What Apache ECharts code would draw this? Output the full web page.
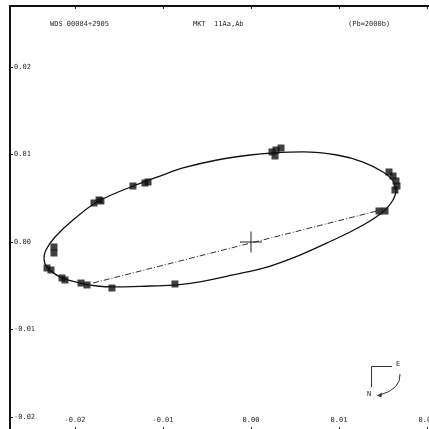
<!DOCTYPE html>
<html>
<head>
<meta charset="utf-8">
<script src="https://cdn.jsdelivr.net/npm/echarts@6/dist/echarts.min.js"></script>
<style>
html,body{margin:0;padding:0;background:#fff;}
#chart{width:429px;height:429px;}
</style>
</head>
<body>
<div id="chart"></div>
<script>
// Header texts
var titleLeft = 'WDS 00084+2905';
var titleMid = 'MKT  11Aa,Ab';
var titleRight = '(Pb=2000b)';

// Tick values (arcsec)
var xTicks = [-0.02, -0.01, 0.00, 0.01, 0.02];
var yTicks = [-0.02, -0.01, 0.00, 0.01, 0.02];

// Apparent orbit, x then y
var orbitX = [0.01648, 0.01614, 0.01500, 0.01273, 0.00977, 0.00591, 0.00250, -0.00011, -0.00386, -0.00773,
  -0.01034, -0.01341, -0.01750, -0.02023, -0.02227, -0.02330, -0.02352, -0.02318, -0.02170, -0.01943,
  -0.01750, -0.01568, -0.01148, -0.00841, -0.00580, -0.00205, 0.00182, 0.00557, 0.00864, 0.01125,
  0.01352, 0.01523, 0.01614, 0.01648];
var orbitY = [0.00571, 0.00697, 0.00800, 0.00914, 0.00994, 0.01029, 0.01017, 0.00994, 0.00937, 0.00846,
  0.00754, 0.00640, 0.00457, 0.00251, 0.00057, -0.00091, -0.00183, -0.00286, -0.00400, -0.00469,
  -0.00503, -0.00514, -0.00503, -0.00491, -0.00457, -0.00377, -0.00286, -0.00149, -0.00011, 0.00114,
  0.00240, 0.00366, 0.00480, 0.00571];

// Observations
var obsX = [-0.01784, -0.01727, -0.01705, -0.01341, -0.01205, -0.01170, -0.02239, -0.02239, -0.02318, -0.02273,
  -0.02148, -0.02114, -0.01932, -0.01864, -0.01580, -0.00864, 0.00239, 0.00284, 0.00341, 0.00273,
  0.01568, 0.01614, 0.01648, 0.01659, 0.01636, 0.01455, 0.01523];
var obsY = [0.00446, 0.00480, 0.00469, 0.00640, 0.00674, 0.00686, -0.00057, -0.00126, -0.00297, -0.00320,
  -0.00411, -0.00434, -0.00469, -0.00491, -0.00526, -0.00480, 0.01029, 0.01051, 0.01074, 0.00983,
  0.00800, 0.00754, 0.00697, 0.00640, 0.00594, 0.00354, 0.00354];

// Line of apsides
var apsX = [-0.01795, 0.01477];
var apsY = [-0.00469, 0.00366];

// Primary cross
var crossHX = [-0.00125, 0.00125];
var crossHY = [0.0, 0.0];
var crossVX = [0.0, 0.0];
var crossVY = [-0.00120, 0.00120];

function zip(a, b) { return a.map(function (v, i) { return [v, b[i]]; }); }
function fmt(v) { return v.toFixed(2); }

var FONT = 'DejaVu Sans Mono';
var TXT = '#2a2a2a';

var chart = echarts.init(document.getElementById('chart'), null, {renderer: 'canvas'});
chart.setOption({
  animation: false,
  backgroundColor: '#fff',
  grid: {left: 10, top: 6, width: 422, height: 424, show: false, containLabel: false, outerBoundsMode: 'none'},
  xAxis: [{
    type: 'value', position: 'bottom', min: -0.027386, max: 0.020568,
    splitLine: {show: false},
    axisLine: {show: false, onZero: false},
    axisTick: {show: true, inside: true, length: 3, customValues: xTicks, lineStyle: {color: '#222'}},
    axisLabel: {show: true, inside: true, margin: 6, customValues: xTicks, formatter: fmt,
      fontSize: 7, fontFamily: FONT, color: TXT}
  }, {
    type: 'value', position: 'top', min: -0.027386, max: 0.020568,
    splitLine: {show: false},
    axisLine: {show: true, onZero: false, lineStyle: {color: '#111', width: 2}},
    axisTick: {show: true, inside: true, length: 3, customValues: xTicks, lineStyle: {color: '#222'}},
    axisLabel: {show: false}
  }],
  yAxis: [{
    type: 'value', position: 'left', min: -0.021486, max: 0.02697,
    splitLine: {show: false},
    axisLine: {show: true, onZero: false, lineStyle: {color: '#111', width: 2}},
    axisTick: {show: true, inside: true, length: 3, customValues: yTicks, lineStyle: {color: '#222'}},
    axisLabel: {show: true, inside: true, margin: 4, customValues: yTicks, formatter: fmt,
      fontSize: 7, fontFamily: FONT, color: TXT}
  }],
  series: [{
    type: 'line', data: zip(orbitX, orbitY), smooth: 0.35, symbol: 'none',
    lineStyle: {color: '#111', width: 1.3}, z: 2
  }, {
    type: 'line', data: zip(apsX, apsY), symbol: 'none',
    lineStyle: {color: '#333', width: 1, type: [6, 2, 1, 2]}, z: 2
  }, {
    type: 'line', data: zip(crossHX, crossHY), symbol: 'none',
    lineStyle: {color: '#222', width: 1}, z: 3
  }, {
    type: 'line', data: zip(crossVX, crossVY), symbol: 'none',
    lineStyle: {color: '#222', width: 1}, z: 3
  }, {
    type: 'scatter', data: zip(obsX, obsY), symbol: 'rect', symbolSize: 7,
    itemStyle: {color: '#111'}, z: 4
  }],
  graphic: [
    {type: 'text', left: 50, top: 21, style: {text: titleLeft, font: '7px "DejaVu Sans Mono"', fill: TXT}},
    {type: 'text', left: 193, top: 21, style: {text: titleMid, font: '7px "DejaVu Sans Mono"', fill: TXT}},
    {type: 'text', left: 348, top: 21, style: {text: titleRight, font: '7px "DejaVu Sans Mono"', fill: TXT}},
    {type: 'polyline', shape: {points: [[392, 366.5], [371.5, 366.5], [371.5, 387]]},
      style: {stroke: '#333', lineWidth: 1, fill: null}},
    {type: 'text', left: 396, top: 361, style: {text: 'E', font: '7px "DejaVu Sans Mono"', fill: TXT}},
    {type: 'text', left: 367, top: 391, style: {text: 'N', font: '7px "DejaVu Sans Mono"', fill: TXT}},
    {type: 'bezierCurve', shape: {x1: 400, y1: 374, cpx1: 401, cpy1: 389, x2: 380, y2: 395},
      style: {stroke: '#333', lineWidth: 1, fill: null}},
    {type: 'polygon', shape: {points: [[377, 395.5], [382, 392.5], [381.5, 397.5]]},
      style: {fill: '#333'}}
  ]
});
</script>
</body>
</html>
